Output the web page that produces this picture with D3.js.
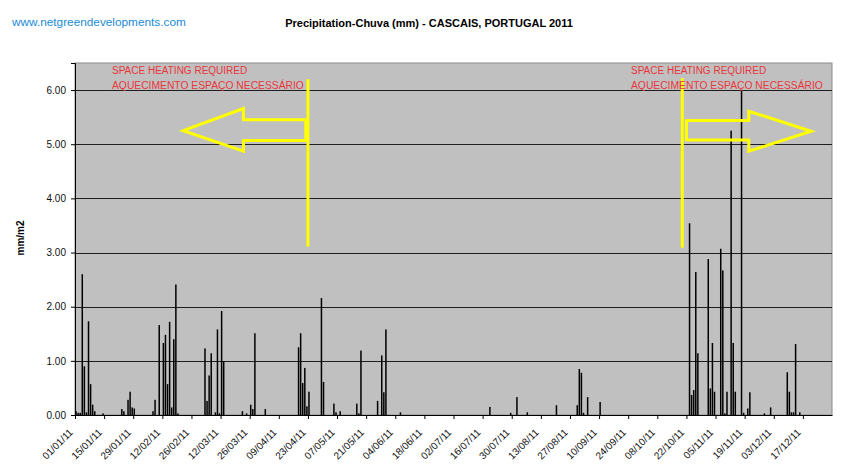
<!DOCTYPE html>
<html>
<head>
<meta charset="utf-8">
<script src="https://cdnjs.cloudflare.com/ajax/libs/d3/7.8.5/d3.min.js"></script>
<style>
  body { margin: 0; background: #fff; }
</style>
</head>
<body>
<script>
// daily rain, Cascais 2011 - only the days with a bar (day 0 = 01/01/11)
const rainDay = [
  0, 1, 2, 3, 4, 5, 6, 7, 8, 9, 13,
  22, 23, 25, 26, 27, 28,
  37, 38, 40, 42, 43, 44, 45, 46, 47, 48, 49,
  62, 63, 64, 65, 67, 68, 69, 70, 71,
  80, 82, 84, 85, 86, 91,
  107, 108, 109, 110, 111, 112, 118, 119,
  124, 125, 127, 135, 136, 137,
  145, 147, 148, 149, 156,
  199, 209, 212, 217, 231, 241, 242, 243, 244, 246, 252,
  295, 296, 297, 298, 299, 304, 305, 306, 307,
  310, 311, 312, 313, 315, 316, 317, 320, 321, 323, 324,
  331, 334, 342, 343, 344, 345, 346, 348
]
const rainMm = [
  0.07, 0.04, 0.04, 2.60, 0.90, 0.05, 1.73, 0.57, 0.19, 0.07, 0.03,
  0.11, 0.07, 0.28, 0.43, 0.14, 0.12,
  0.07, 0.28, 1.66, 1.33, 1.48, 0.57, 1.72, 0.14, 1.40, 2.41, 0.03,
  1.23, 0.26, 0.73, 1.14, 0.05, 1.58, 0.03, 1.92, 0.99,
  0.07, 0.03, 0.19, 0.11, 1.51, 0.11,
  1.25, 1.51, 0.59, 0.87, 0.16, 0.43, 2.16, 0.61,
  0.21, 0.05, 0.07, 0.21, 0.03, 1.19,
  0.26, 1.10, 0.42, 1.58, 0.05,
  0.15, 0.04, 0.33, 0.05, 0.18, 0.18, 0.85, 0.78, 0.04, 0.33, 0.24,
  3.54, 0.37, 0.46, 2.64, 1.14, 2.88, 0.49, 1.33, 0.43,
  3.07, 2.67, 0.03, 0.43, 5.25, 1.33, 0.43, 5.99, 0.04, 0.12, 0.42,
  0.03, 0.14, 0.79, 0.43, 0.05, 0.05, 1.31, 0.05
]
const tickLabels = [
  '01/01/11', '15/01/11', '29/01/11', '12/02/11', '26/02/11', '12/03/11',
  '26/03/11', '09/04/11', '23/04/11', '07/05/11', '21/05/11', '04/06/11',
  '18/06/11', '02/07/11', '16/07/11', '30/07/11', '13/08/11', '27/08/11',
  '10/09/11', '24/09/11', '08/10/11', '22/10/11', '05/11/11', '19/11/11',
  '03/12/11', '17/12/11'
]
const yTicks = [0, 1, 2, 3, 4, 5, 6]

// heating notes: [day, mm] points
const heatLeftLine = [[112.5, 6.2], [112.5, 3.11]]
const heatRightLine = [[292, 6.22], [292, 3.09]]
const arrowLeft = [[111, 5.45], [81.7, 5.45], [81.7, 5.66], [52.5, 5.25], [81.7, 4.87], [81.7, 5.07], [111, 5.07]]
const arrowRight = [[294, 5.44], [324, 5.44], [324, 5.61], [354.7, 5.24], [324, 4.87], [324, 5.08], [294, 5.08]]

const w = 857
const h = 475
const plotL = 75, plotR = 832, plotT = 63, plotB = 415

const start = new Date(2011, 0, 1)
const end = new Date(2011, 11, 31)
const dayDate = d => d3.timeDay.offset(start, d)
const parse = d3.timeParse('%d/%m/%y')

const x = d3.scaleTime().domain([start, end]).range([plotL, plotR])
const y = d3.scaleLinear().domain([0, 6.5]).range([plotB, plotT])
const slot = x(dayDate(1)) - x(dayDate(0))

let svg = d3.select('body')
  .append('svg')
  .attr('width', w)
  .attr('height', h)
  .style('font-family', '"Liberation Sans", Arial, sans-serif')

svg.append('rect')
  .attr('width', w)
  .attr('height', h)
  .attr('fill', '#fff')

// plot area
svg.append('rect')
  .attr('x', plotL)
  .attr('y', plotT)
  .attr('width', plotR - plotL)
  .attr('height', plotB - plotT)
  .attr('fill', '#c0c0c0')
  .attr('stroke', '#8c8c8c')
  .attr('stroke-width', 1)

// gridlines
svg.append('g')
  .selectAll('line')
  .data(yTicks.filter(d => d > 0))
  .enter()
  .append('line')
  .attr('x1', plotL)
  .attr('x2', plotR)
  .attr('y1', d => Math.round(y(d)) + 0.5)
  .attr('y2', d => Math.round(y(d)) + 0.5)
  .attr('stroke', '#1e1e1e')
  .attr('stroke-width', 1.2)

// bars
svg.append('g')
  .selectAll('rect')
  .data(rainDay.map((d, i) => ({ day: d, mm: rainMm[i] })))
  .enter()
  .append('rect')
  .attr('x', d => x(dayDate(d.day)) + slot / 2 - 0.75)
  .attr('y', d => y(d.mm))
  .attr('width', 1.5)
  .attr('height', d => plotB - y(d.mm))
  .attr('fill', '#000')

// y axis
const yAxis = svg.append('g')
  .attr('transform', `translate(${plotL},0)`)
  .call(d3.axisLeft(y).tickValues(yTicks).tickFormat(d3.format('.2f')).tickSize(4).tickPadding(5))
yAxis.select('.domain').attr('stroke', '#000')
yAxis.selectAll('.tick line').attr('stroke', '#000')
yAxis.selectAll('text')
  .attr('fill', '#111')
  .style('font-size', '10px')

// x axis
const xAxis = svg.append('g')
  .attr('transform', `translate(0,${plotB})`)
  .call(d3.axisBottom(x).tickValues(tickLabels.map(parse)).tickFormat(d3.timeFormat('%d/%m/%y')).tickSize(4).tickSizeOuter(0))
xAxis.select('.domain').attr('stroke', '#000')
xAxis.selectAll('.tick line').attr('stroke', '#000')
xAxis.selectAll('text')
  .attr('x', 0)
  .attr('y', 0)
  .attr('dy', 0)
  .attr('transform', 'translate(-2,18) rotate(-45)')
  .style('text-anchor', 'end')
  .style('font-size', '10px')
  .attr('fill', '#111')

// heating annotations
const line = d3.line().x(d => x(dayDate(d[0]))).y(d => y(d[1]))
const yellow = '#ffff00'
svg.append('path').attr('d', line(heatLeftLine)).attr('stroke', yellow).attr('stroke-width', 3).attr('fill', 'none')
svg.append('path').attr('d', line(heatRightLine)).attr('stroke', yellow).attr('stroke-width', 3).attr('fill', 'none')
svg.append('path').attr('d', line(arrowLeft) + 'Z').attr('stroke', yellow).attr('stroke-width', 3).attr('fill', 'none')
svg.append('path').attr('d', line(arrowRight) + 'Z').attr('stroke', yellow).attr('stroke-width', 3).attr('fill', 'none')

const notes = [[plotL + 37, 'SPACE HEATING REQUIRED', 'AQUECIMENTO ESPAÇO NECESSÁRIO'], [631, 'SPACE HEATING REQUIRED', 'AQUECIMENTO ESPAÇO NECESSÁRIO']]
notes.forEach(n => {
  svg.append('text').attr('x', n[0]).attr('y', 74).text(n[1])
    .attr('fill', '#e8363c').style('font-size', '10px')
  svg.append('text').attr('x', n[0]).attr('y', 89).text(n[2])
    .attr('fill', '#e8363c').style('font-size', '10.3px')
})

// titles
svg.append('text')
  .attr('x', 429)
  .attr('y', 27)
  .attr('text-anchor', 'middle')
  .style('font-size', '11px')
  .style('font-weight', 'bold')
  .text('Precipitation-Chuva (mm) - CASCAIS, PORTUGAL 2011')

svg.append('text')
  .attr('x', 12)
  .attr('y', 26)
  .attr('fill', '#1a8cd6')
  .style('font-size', '11.8px')
  .text('www.netgreendevelopments.com')

svg.append('text')
  .attr('transform', 'translate(24,238) rotate(-90)')
  .attr('text-anchor', 'middle')
  .style('font-size', '10px')
  .style('font-weight', 'bold')
  .text('mm/m2')
</script>
</body>
</html>
